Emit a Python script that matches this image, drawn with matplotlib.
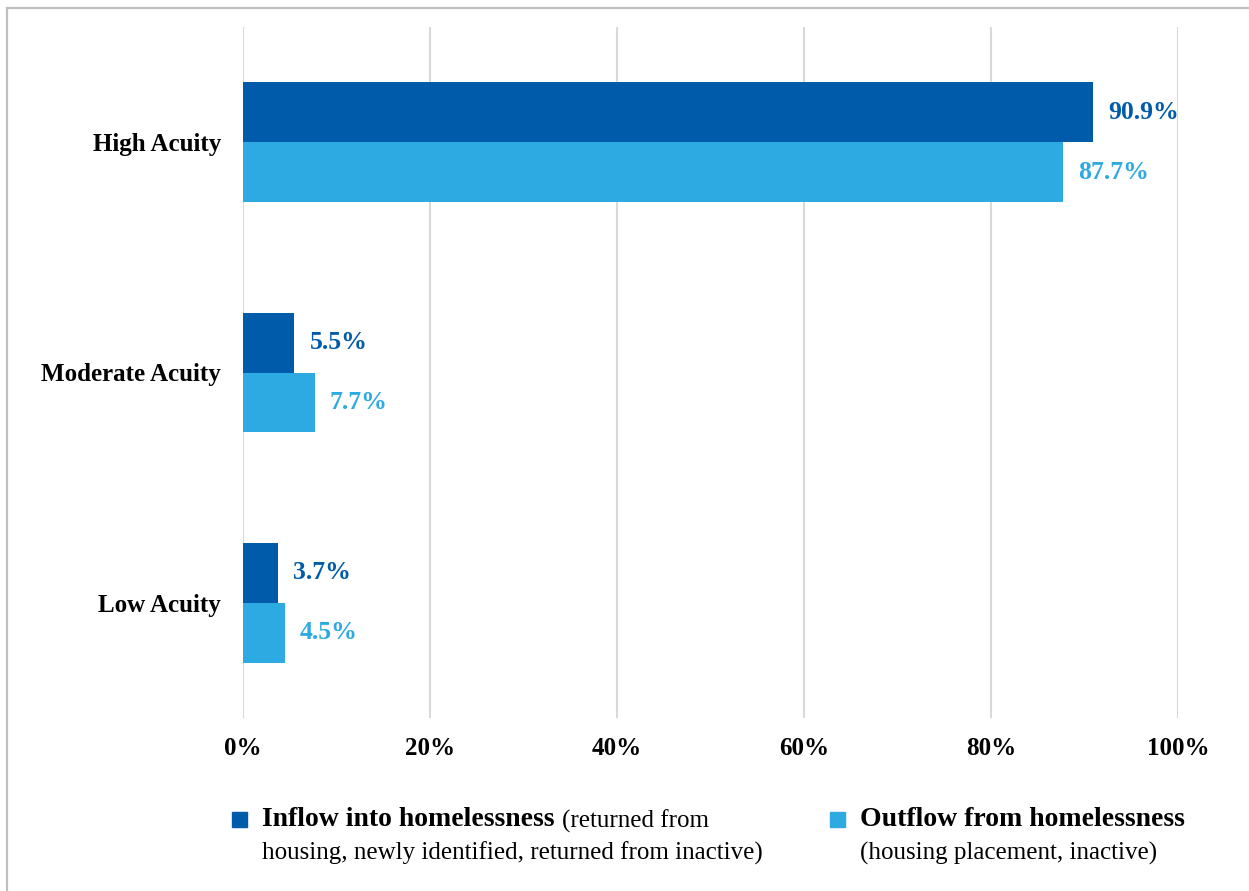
import matplotlib
matplotlib.use("Agg")
import matplotlib.pyplot as plt
from matplotlib.patches import Rectangle
from matplotlib.lines import Line2D
import numpy as np

categories = ["High Acuity", "Moderate Acuity", "Low Acuity"]
inflow = [90.9, 5.5, 3.7]
outflow = [87.7, 7.7, 4.5]
xticks = [0, 20, 40, 60, 80, 100]
xtick_labels = ["0%", "20%", "40%", "60%", "80%", "100%"]

DARK = "#005BAA"
LIGHT = "#2DAAE2"
FONT = "Liberation Serif"

W, H = 1249, 891
fig = plt.figure(figsize=(W / 100, H / 100), dpi=100)
ax = fig.add_axes([243 / W, 1 - 718 / H, (1178 - 243) / W, (718 - 27) / H])

y = np.arange(len(categories))
bh = 0.26
ax.barh(y - bh / 2, inflow, height=bh, color=DARK, zorder=3)
ax.barh(y + bh / 2, outflow, height=bh, color=LIGHT, zorder=3)

for yi, v in zip(y, inflow):
    ax.annotate(f"{v:.1f}%", (v, yi - bh / 2), xytext=(15, 0), textcoords="offset pixels",
                va="center", ha="left", color=DARK, fontsize=18.5, fontweight="bold", family=FONT)
for yi, v in zip(y, outflow):
    ax.annotate(f"{v:.1f}%", (v, yi + bh / 2), xytext=(15, 0), textcoords="offset pixels",
                va="center", ha="left", color=LIGHT, fontsize=18.5, fontweight="bold", family=FONT)

ax.set_xlim(0, 100)
ax.set_ylim(2.5, -0.5)
ax.set_yticks(y)
ax.set_yticklabels(categories, fontsize=18, fontweight="bold", family=FONT)
ax.set_xticks(xticks)
ax.set_xticklabels(xtick_labels, fontsize=18, fontweight="bold", family=FONT)
ax.tick_params(axis="both", length=0)
ax.tick_params(axis="y", pad=16)
ax.tick_params(axis="x", pad=14)
for s in ax.spines.values():
    s.set_visible(False)
ax.grid(axis="x", color="#d9d9d9", linewidth=1.5, zorder=0)
ax.set_axisbelow(True)

# figure border (top and left)
fig.add_artist(Line2D([7 / W, 1], [1 - 8 / H, 1 - 8 / H], transform=fig.transFigure, color="#c0c0c0", lw=1.6))
fig.add_artist(Line2D([7 / W, 7 / W], [0, 1 - 8 / H], transform=fig.transFigure, color="#c0c0c0", lw=1.6))

# legend
fig.canvas.draw()
renderer = fig.canvas.get_renderer()

def legend_entry(xm, color, bold, normal1, line2):
    fig.add_artist(Rectangle((xm / W, 1 - 827 / H), 15 / W, 15 / H, transform=fig.transFigure,
                             color=color))
    t = fig.text((xm + 30) / W, 1 - 820 / H, bold, fontsize=20, fontweight="bold", family=FONT,
                 va="center", ha="left")
    if normal1:
        bb = t.get_window_extent(renderer)
        fig.text(bb.x1 / W + 7 / W, 1 - 821 / H, normal1, fontsize=18, family=FONT,
                 va="center", ha="left")
    fig.text((xm + 30) / W, 1 - 853 / H, line2, fontsize=18, family=FONT, va="center", ha="left")

legend_entry(232, DARK, "Inflow into homelessness", "(returned from",
             "housing, newly identified, returned from inactive)")
legend_entry(830, LIGHT, "Outflow from homelessness", "",
             "(housing placement, inactive)")

fig.savefig("out.png", dpi=100)
